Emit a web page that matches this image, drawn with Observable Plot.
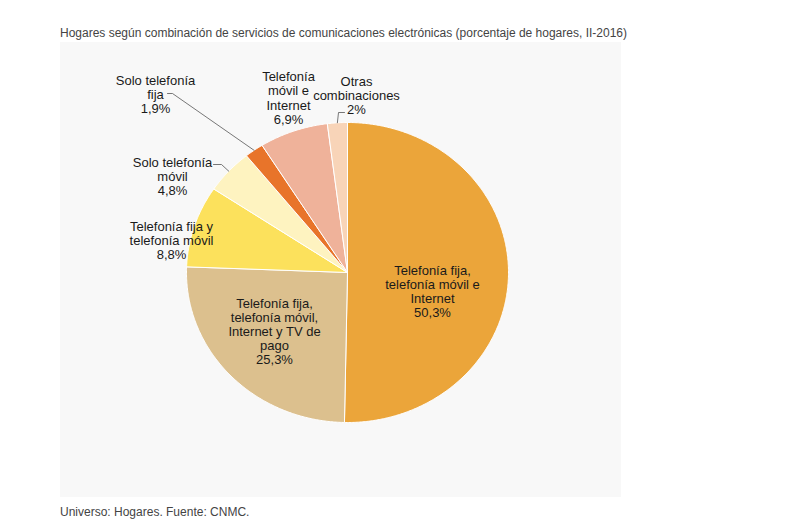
<!DOCTYPE html>
<html>
<head>
<meta charset="utf-8">
<script src="https://cdn.jsdelivr.net/npm/d3@7"></script>
<script src="https://cdn.jsdelivr.net/npm/@observablehq/plot@0.6"></script>
<style>
  html, body { margin: 0; padding: 0; background: #ffffff; }
  body { width: 806px; height: 532px; position: relative; overflow: hidden; font-family: "Liberation Sans", Arial, sans-serif; }
  #title { position: absolute; left: 60px; top: 26px; font-size: 12px; line-height: 14px; color: #444; white-space: nowrap; }
  #panel { position: absolute; left: 60px; top: 42px; width: 561px; height: 455px; background: #f8f8f8; }
  #panel svg { overflow: visible; background: transparent; }
  #caption { position: absolute; left: 60px; top: 505px; font-size: 12px; line-height: 14px; color: #444; white-space: nowrap; }
</style>
</head>
<body>
<div id="title">Hogares según combinación de servicios de comunicaciones electrónicas (porcentaje de hogares, II-2016)</div>
<div id="panel"></div>
<div id="caption">Universo: Hogares. Fuente: CNMC.</div>
<script>
// ---- Data ----
const categories = [
  "Telefonía fija, telefonía móvil e Internet",
  "Telefonía fija, telefonía móvil, Internet y TV de pago",
  "Telefonía fija y telefonía móvil",
  "Solo telefonía móvil",
  "Solo telefonía fija",
  "Telefonía móvil e Internet",
  "Otras combinaciones"
];
const values = [50.3, 25.3, 8.8, 4.8, 1.9, 6.9, 2];
const labelLines = [
  "Telefonía fija,\ntelefonía móvil e\nInternet",
  "Telefonía fija,\ntelefonía móvil,\nInternet y TV de\npago",
  "Telefonía fija y\ntelefonía móvil",
  "Solo telefonía\nmóvil",
  "Solo telefonía\nfija",
  "Telefonía\nmóvil e\nInternet",
  "Otras\ncombinaciones"
];

// ---- Styles / layout ----
const colors = ["#EBA53A", "#DCC08E", "#FCE15C", "#FEF3C0", "#E8742A", "#EFB29A", "#F8D4B8"];
const W = 561, H = 455;
const CX = 287, CY = 230, RX = 161, RY = 150;
// label block centres, in pixels relative to the pie centre
const labelOffsets = [[85, 19], [-73, 59], [-176, -32], [-175, -96], [-192, -178], [-59, -174.5], [9, -177]];
// leader elbows (pixels relative to pie centre), ending at the slice edge
const leaderElbows = {4: [[-180, -179], [-175, -179]], 3: [[-134, -108], [-126, -108]], 6: [[-3, -160], [-9, -160]]};

const px2x = dx => dx / RX;
const px2y = dy => -dy / RY;

const table = categories.map((c, i) => ({cat: c, value: values[i], i}));
const arcs = d3.pie().sort(null).value(d => d.value)(table);

const slices = arcs.map(a => {
  const pts = [{x: 0, y: 0}];
  const n = Math.max(2, Math.ceil((a.endAngle - a.startAngle) / (Math.PI / 360)));
  for (let k = 0; k <= n; k++) {
    const t = a.startAngle + (a.endAngle - a.startAngle) * k / n;
    pts.push({x: Math.sin(t), y: Math.cos(t)});
  }
  pts.push({x: 0, y: 0});
  return {i: a.data.i, pts};
});

const labels = arcs.map(a => {
  const i = a.data.i;
  const [ox, oy] = labelOffsets[i];
  return {x: px2x(ox), y: px2y(oy), text: labelLines[i] + "\n" + String(values[i]).replace(".", ",") + "%"};
});

const leaders = [];
for (const a of arcs) {
  const i = a.data.i;
  if (!leaderElbows[i]) continue;
  for (const [ox, oy] of leaderElbows[i]) leaders.push({i, x: px2x(ox), y: px2y(oy)});
  const m = (a.startAngle + a.endAngle) / 2;
  leaders.push({i, x: Math.sin(m), y: Math.cos(m)});
}

const chart = Plot.plot({
  width: W,
  height: H,
  style: {background: "transparent", fontFamily: "Liberation Sans, Arial, sans-serif"},
  x: {domain: [-1, 1], range: [CX - RX, CX + RX], axis: null},
  y: {domain: [-1, 1], range: [CY + RY, CY - RY], axis: null},
  marks: [
    ...slices.map(s => Plot.line(s.pts, {x: "x", y: "y", fill: colors[s.i], stroke: "#ffffff", strokeWidth: 1, strokeLinejoin: "round"})),
    Plot.line(leaders, {x: "x", y: "y", z: "i", stroke: "#555555", strokeWidth: 0.8}),
    Plot.text(labels, {x: "x", y: "y", text: "text", fontSize: 13, lineHeight: 1.08, fill: "#1a1a1a", textAnchor: "middle", lineAnchor: "middle"})
  ]
});
document.getElementById("panel").appendChild(chart);
</script>
</body>
</html>
